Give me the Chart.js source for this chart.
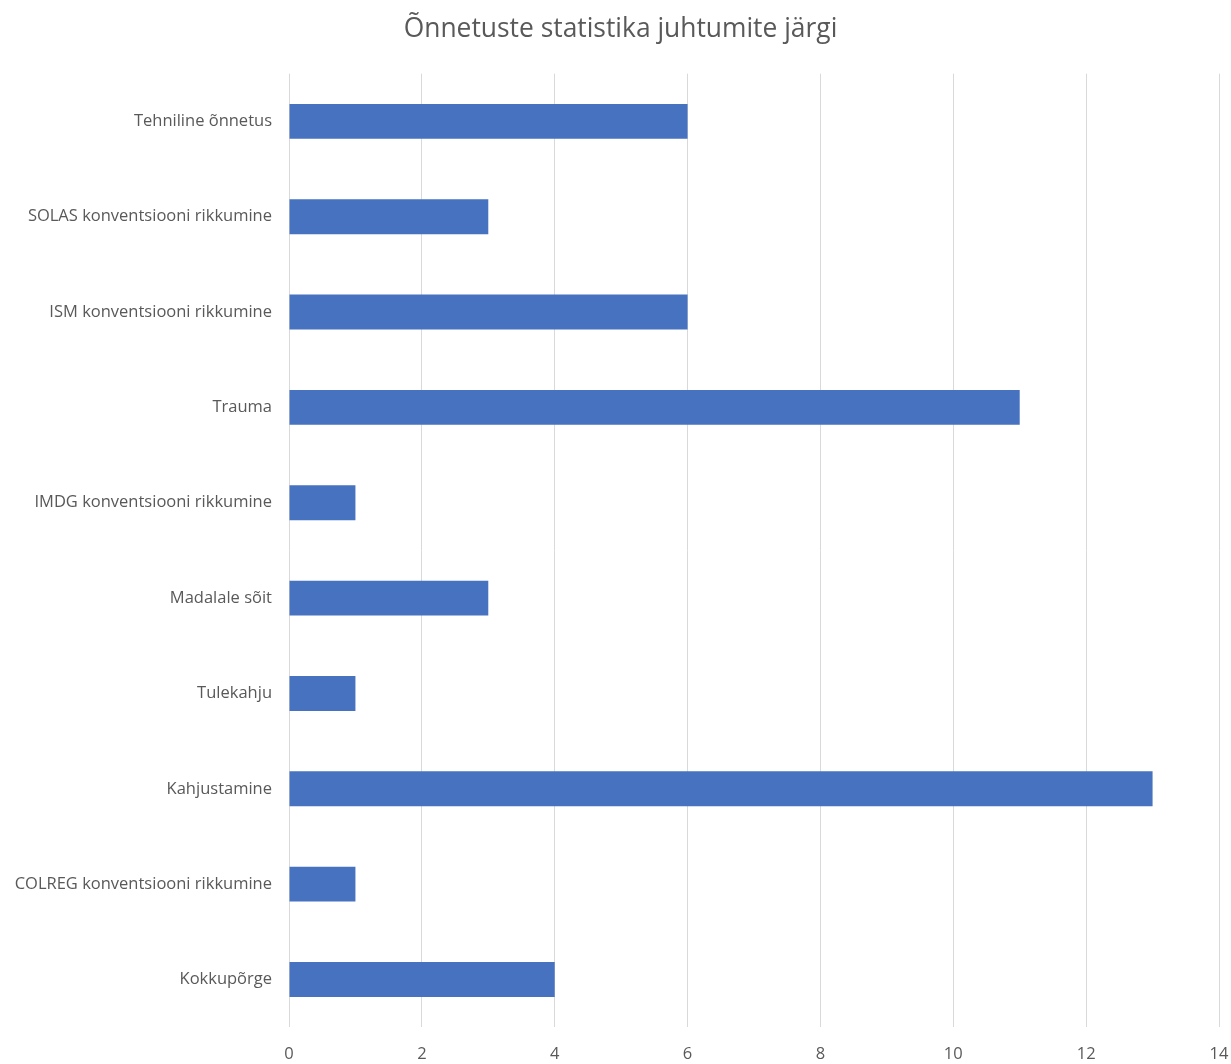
<!DOCTYPE html>
<html>
<head>
<meta charset="utf-8">
<script src="https://cdn.jsdelivr.net/npm/chart.js@4"></script>
<style>
  body { margin: 0; background: #fff; }
</style>
</head>
<body>
<canvas id="barChart" width="1231" height="1064"></canvas>
<script>
var categories = [
  "Tehniline õnnetus",
  "SOLAS konventsiooni rikkumine",
  "ISM konventsiooni rikkumine",
  "Trauma",
  "IMDG konventsiooni rikkumine",
  "Madalale sõit",
  "Tulekahju",
  "Kahjustamine",
  "COLREG konventsiooni rikkumine",
  "Kokkupõrge",
];
var counts = [6, 3, 6, 11, 1, 3, 1, 13, 1, 4];
var xTicks = [0, 2, 4, 6, 8, 10, 12, 14];

var textColor = "#595959";

var ctx = document.getElementById("barChart").getContext("2d");
var myBarChart = new Chart(ctx, {
  type: "bar",
  data: {
    labels: categories,
    datasets: [
      {
        data: counts,
        backgroundColor: "#4672c0",
        categoryPercentage: 1,
        barPercentage: 0.366,
      },
    ],
  },
  options: {
    indexAxis: "y",
    responsive: false,
    animation: false,
    layout: { padding: { left: 0, right: -10, top: 0, bottom: -17 } },
    plugins: {
      legend: { display: false },
      tooltip: { enabled: false },
      title: {
        display: true,
        text: "Õnnetuste statistika juhtumite järgi",
        color: textColor,
        font: { family: "Open Sans", size: 26.4, weight: "normal" },
        padding: { top: 14, bottom: 28 },
      },
    },
    scales: {
      x: {
        min: 0,
        max: 14,
        afterBuildTicks: function (scale) {
          scale.ticks = xTicks.map(function (v) { return { value: v }; });
        },
        afterFit: function (scale) {
          scale.paddingLeft = 0;
          scale.paddingRight = 12;
        },
        grid: { color: "#d9d9d9", lineWidth: 1, drawTicks: false },
        border: { display: false },
        ticks: {
          color: textColor,
          padding: 17,
          font: { family: "Open Sans", size: 16.5 },
        },
      },
      y: {
        grid: { display: false, drawTicks: false },
        border: { display: false },
        afterFit: function (scale) {
          scale.width = 289;
          scale.paddingTop = 0;
          scale.paddingBottom = 0;
        },
        ticks: {
          color: textColor,
          padding: 17,
          font: { family: "Open Sans", size: 16.5 },
        },
      },
    },
  },
});
</script>
</body>
</html>
